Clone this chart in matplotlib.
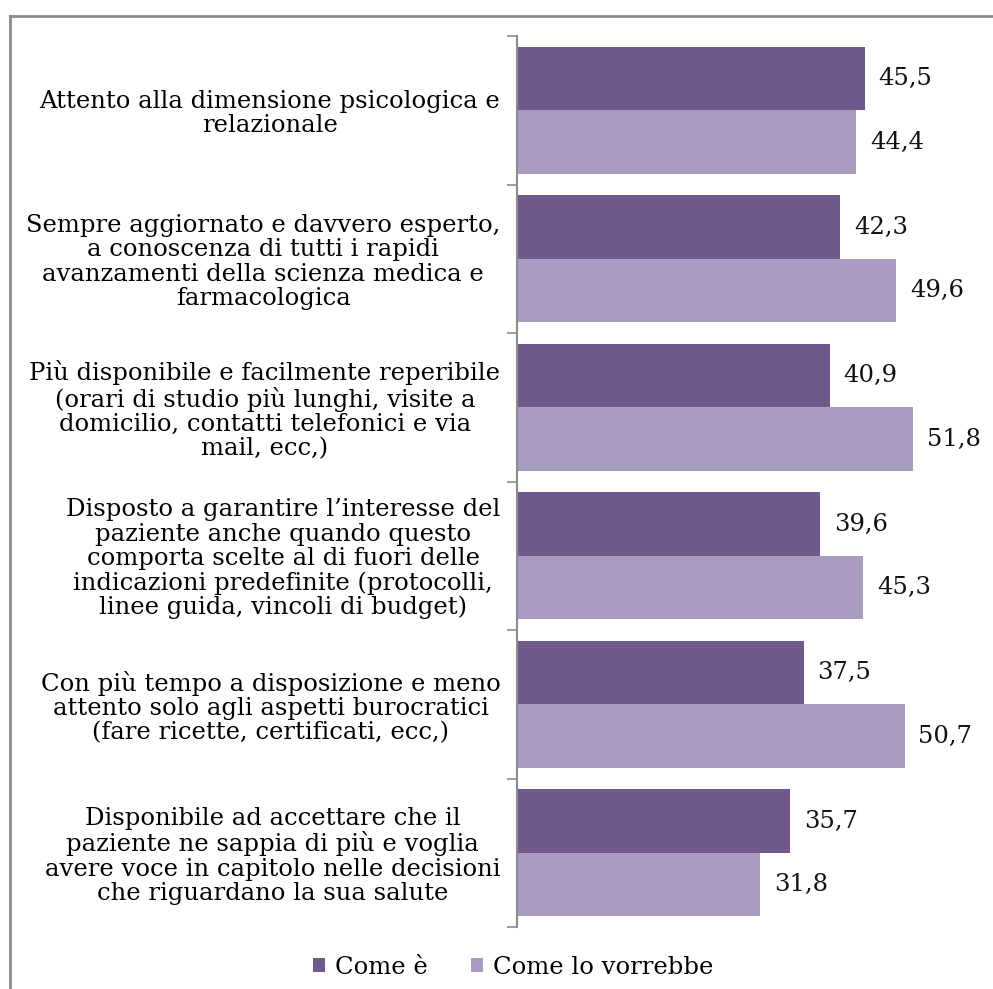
import matplotlib.pyplot as plt
from matplotlib.lines import Line2D
import numpy as np

# dati (percentuali)
categorie = [
    "Attento alla dimensione psicologica e\nrelazionale",
    "Sempre aggiornato e davvero esperto,\na conoscenza di tutti i rapidi\navanzamenti della scienza medica e\nfarmacologica",
    "Più disponibile e facilmente reperibile\n(orari di studio più lunghi, visite a\ndomicilio, contatti telefonici e via\nmail, ecc,)",
    "Disposto a garantire l\u2019interesse del\npaziente anche quando questo\ncomporta scelte al di fuori delle\nindicazioni predefinite (protocolli,\nlinee guida, vincoli di budget)",
    "Con più tempo a disposizione e meno\nattento solo agli aspetti burocratici\n(fare ricette, certificati, ecc,)",
    "Disponibile ad accettare che il\npaziente ne sappia di più e voglia\navere voce in capitolo nelle decisioni\nche riguardano la sua salute",
]
come_e = [45.5, 42.3, 40.9, 39.6, 37.5, 35.7]
come_vorrebbe = [44.4, 49.6, 51.8, 45.3, 50.7, 31.8]
serie = ["Come è", "Come lo vorrebbe"]

col_scuro = "#71598e"
col_chiaro = "#aa9bc0"
grigio = "#8c8c8c"

plt.rcParams['font.family'] = ['DejaVu Serif', 'Liberation Serif']

W, H = 993, 989
fig = plt.figure(figsize=(W / 100, H / 100), dpi=100)
ax = fig.add_axes([517 / W, 1 - 927 / H, 1 - 517 / W, (927 - 36) / H])

n = len(categorie)
y = np.arange(n)
h = 0.428

b1 = ax.barh(y - h / 2, come_e, height=h, color=col_scuro)
b2 = ax.barh(y + h / 2, come_vorrebbe, height=h, color=col_chiaro)

for bars, vals in ((b1, come_e), (b2, come_vorrebbe)):
    for b, v in zip(bars, vals):
        ax.annotate(f"{v:.1f}".replace(".", ","),
                    (b.get_width(), b.get_y() + b.get_height() / 2),
                    xytext=(10, 0), textcoords="offset points",
                    ha="left", va="center", fontsize=17.5, color="#111111")

ax.set_xlim(0, 476 / 7.645)
ax.set_ylim(n - 0.5, -0.5)

# tacche ai confini delle categorie, etichette al centro
ax.set_yticks(np.arange(-0.5, n, 1))
ax.set_yticklabels([])
ax.tick_params(axis="y", which="major", length=7, width=1.2, color=grigio)
ax.set_yticks(y, minor=True)
ax.set_yticklabels(categorie, minor=True, fontsize=17.5, multialignment="center",
                   linespacing=1.07)
ax.tick_params(axis="y", which="minor", length=0, pad=12)
ax.set_xticks([])

for s in ("top", "right", "bottom"):
    ax.spines[s].set_visible(False)
ax.spines["left"].set_color(grigio)
ax.spines["left"].set_linewidth(1.5)

fig.legend([b1, b2], serie, loc="center", bbox_to_anchor=(513 / W, 1 - 967 / H),
           ncol=2, frameon=False, fontsize=17.5, handlelength=0.5, handleheight=0.5,
           handletextpad=0.4, columnspacing=1.8)

# cornice
fig.add_artist(Line2D([10 / W, 1], [1 - 16 / H, 1 - 16 / H], color=grigio, lw=2))
fig.add_artist(Line2D([10 / W, 10 / W], [0, 1 - 16 / H], color=grigio, lw=2))

fig.savefig("out.png", dpi=100)
